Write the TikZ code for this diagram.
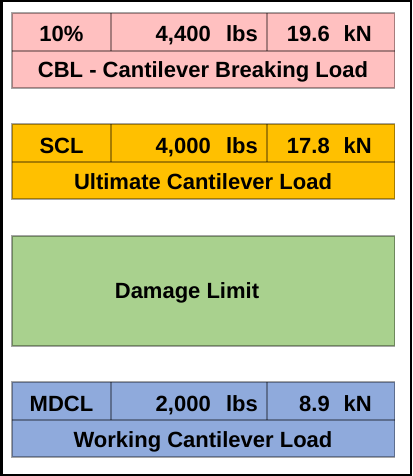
\documentclass[tikz,border=0pt]{standalone}
\usepackage{fontspec}
\setmainfont{Liberation Sans}
\usepackage{xcolor}
\usepackage{tikz}
\definecolor{cblpink}{HTML}{FFC0C0}
\definecolor{uclgold}{HTML}{FFC000}
\definecolor{dmggreen}{HTML}{A9D18E}
\definecolor{wclblue}{HTML}{8FAADC}

\begin{document}
\begin{tikzpicture}[x=1pt, y=-1pt, every node/.style={font=\fontsize{22}{26}\selectfont\bfseries, inner sep=0pt}]
       \useasboundingbox (0,0) rectangle (412,476);

       % outer frame
       \draw [line width=2.5pt] (1.25,1.25) rectangle (410.75,474.75);

       % column edges
       \def\xl{12}
       \def\xr{394.5}
       \def\xa{111}
       \def\xb{267}

       % load bands: colour / top / short name / lbs / kN / long name
       \foreach \col/\y/\sn/\lb/\kn/\ln [count=\i] in {cblpink/13/10\%/{4,400}/19.6/{CBL - Cantilever Breaking Load}, uclgold/124/SCL/{4,000}/17.8/{Ultimate Cantilever Load}, wclblue/382/MDCL/{2,000}/8.9/{Working Cantilever Load}}{
       \draw [fill=\col, draw=black, draw opacity=.35, line width=1.5pt] (\xl, \y) rectangle (\xr, \y + 75);
       \draw [draw=black, draw opacity=.35, line width=1.5pt] (\xl, \y + 38) -- (\xr, \y + 38);
       \draw [draw=black, draw opacity=.35, line width=1.5pt] (\xa, \y) -- (\xa, \y + 38);
       \draw [draw=black, draw opacity=.35, line width=1.5pt] (\xb, \y) -- (\xb, \y + 38);
       \node (sn\i) [anchor=base] at (61.5, \y + 29) {\sn};
       \node (lb\i) [anchor=base east] at (211, \y + 29) {\lb};
       \node (lbs\i) [anchor=base east] at (258, \y + 29) {lbs};
       \node (kn\i) [anchor=base east] at (330, \y + 29) {\kn};
       \node (kN\i) [anchor=base east] at (372, \y + 29) {kN};
       \node (ln\i) [anchor=base] at (203, \y + 65) {\ln};
       }

       % damage limit
       \draw [fill=dmggreen, draw=black, draw opacity=.35, line width=1.5pt] (\xl, 236) rectangle (\xr, 346);
       \node (dmg) [anchor=base] at (187, 298) {Damage Limit};
\end{tikzpicture}
\end{document}
